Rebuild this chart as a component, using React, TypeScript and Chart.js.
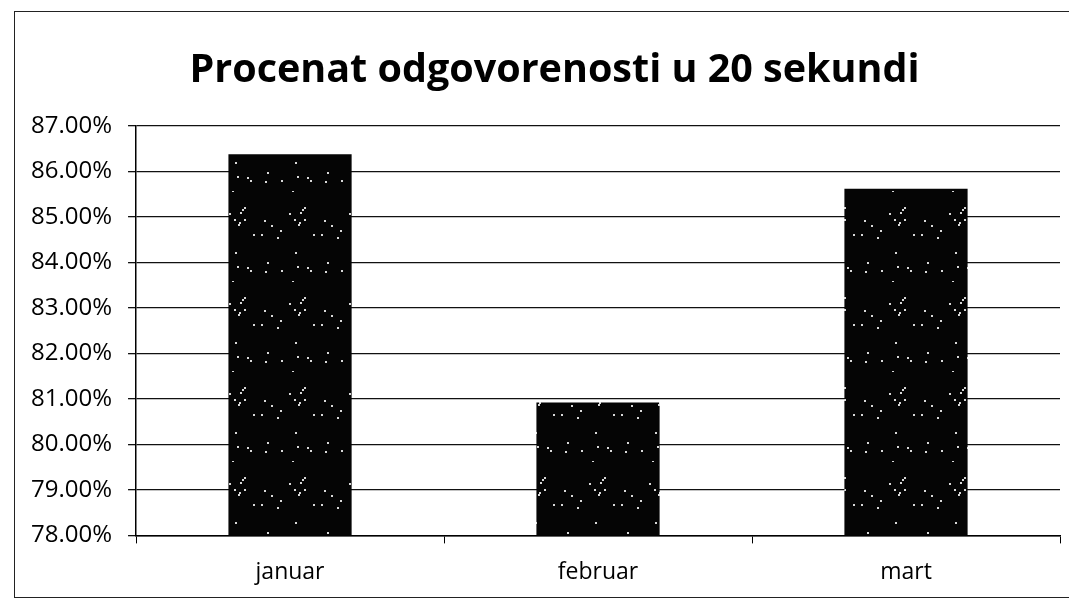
import React, { useEffect, useRef } from "react";
import { Chart, registerables } from "chart.js";

Chart.register(...registerables);

const categories = ["januar", "februar", "mart"];
const values = [86.38, 80.92, 85.62];
const yMin = 78;
const yMax = 87;
const titleText = "Procenat odgovorenosti u 20 sekundi";

function makeSpeckle(): CanvasPattern | string {
  const c = document.createElement("canvas");
  c.width = 60;
  c.height = 90;
  const ctx = c.getContext("2d");
  if (!ctx) return "#000";
  ctx.fillStyle = "#050505";
  ctx.fillRect(0, 0, c.width, c.height);
  let s = 12345;
  const next = () => {
    s = (s * 1103515245 + 12345) % 2147483648;
    return s / 2147483648;
  };
  ctx.fillStyle = "#d8d8d8";
  for (let i = 0; i < 22; i++) {
    const x = Math.floor(next() * c.width);
    const y = Math.floor(next() * c.height);
    ctx.fillRect(x, y, 2, 2);
  }
  const p = ctx.createPattern(c, "repeat");
  return p || "#000";
}

const titlePlugin = {
  id: "customTitle",
  afterDraw(chart: any) {
    const ctx = chart.ctx;
    ctx.save();
    ctx.fillStyle = "#000";
    ctx.font = "bold 39.5px 'Open Sans', sans-serif";
    ctx.textAlign = "center";
    ctx.textBaseline = "alphabetic";
    ctx.fillText(titleText, 539.5, 70);
    ctx.restore();
  },
};

export default function App() {
  const ref = useRef<HTMLCanvasElement | null>(null);
  useEffect(() => {
    if (!ref.current) return;
    const pattern = makeSpeckle();
    const chart = new Chart(ref.current, {
      type: "bar",
      data: {
        labels: categories,
        datasets: [
          {
            data: values,
            backgroundColor: pattern as any,
            borderWidth: 0,
            barPercentage: 0.4,
            categoryPercentage: 1,
          },
        ],
      },
      plugins: [titlePlugin],
      options: {
        animation: false,
        responsive: false,
        layout: { padding: { right: 17, left: 0, top: 114, bottom: -4 } },
        plugins: {
          legend: { display: false },
          tooltip: { enabled: false },
          title: { display: false },
        },
        scales: {
          x: {
            offset: true,
            grid: {
              display: true,
              drawOnChartArea: false,
              drawTicks: true,
              tickLength: 8,
              offset: true,
              color: "#000",
            },
            border: { display: true, color: "#000", width: 1.5 },
            ticks: {
              color: "#000",
              padding: 15,
              font: { family: "'Open Sans', sans-serif", size: 23 },
            },
          },
          y: {
            min: yMin,
            max: yMax,
            grid: { color: "#111", lineWidth: 1.3, tickLength: 8 },
            border: { display: true, color: "#000", width: 1.5 },
            ticks: {
              stepSize: 1,
              color: "#000",
              padding: 16,
              font: { family: "'Open Sans', sans-serif", size: 24 },
              callback: (v: any) => Number(v).toFixed(2) + "%",
            },
          },
        },
      },
    });
    return () => chart.destroy();
  }, []);
  return (
    <div
      style={{
        marginLeft: 6,
        marginTop: 3,
        width: 1062,
        height: 585,
        borderLeft: "1.5px solid #222",
        borderTop: "1.5px solid #222",
        borderBottom: "1.5px solid #222",
      }}
    >
      <canvas ref={ref} width={1062} height={585} style={{ display: "block" }} />
    </div>
  );
}
